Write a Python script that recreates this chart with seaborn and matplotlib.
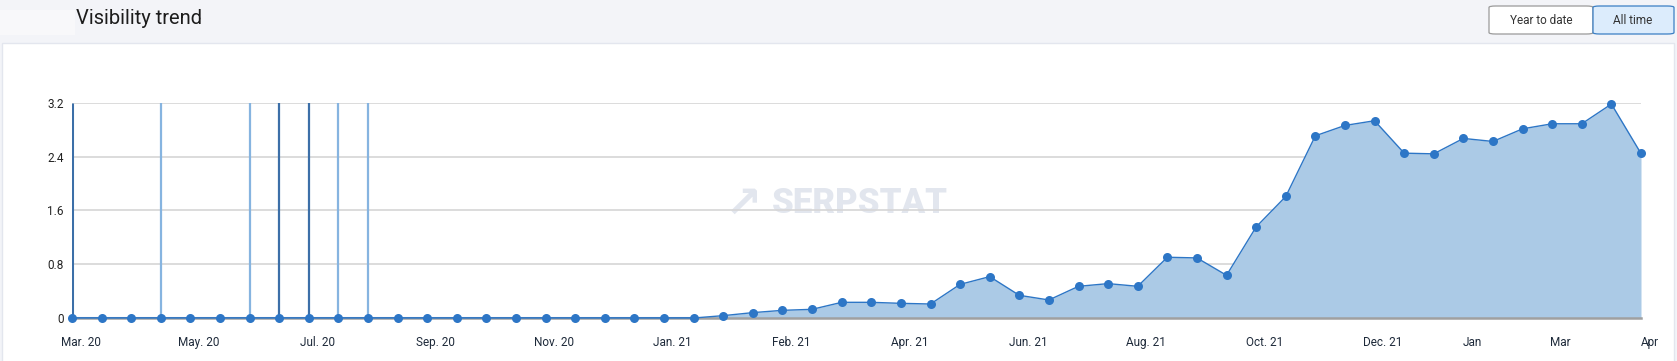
import numpy as np
import pandas as pd
import seaborn as sns
import matplotlib.pyplot as plt
import matplotlib.transforms as mtransforms
from matplotlib.patches import Rectangle, FancyBboxPatch

# data (one point roughly every half month)
visibility = [0, 0, 0, 0, 0, 0, 0, 0, 0, 0,
              0, 0, 0, 0, 0, 0, 0, 0, 0, 0,
              0, 0, 0.035, 0.08, 0.114, 0.129, 0.233, 0.233, 0.218, 0.208,
              0.50, 0.615, 0.337, 0.268, 0.471, 0.511, 0.471, 0.903, 0.893, 0.635,
              1.354, 1.806, 2.708, 2.862, 2.932, 2.450, 2.440, 2.669, 2.624, 2.812,
              2.887, 2.887, 3.18, 2.445]
tick_pos = [0, 4, 8, 12, 16, 20, 24, 28, 32, 36, 40, 44, 47, 50, 53]
tick_labels = ["Mar. 20", "May. 20", "Jul. 20", "Sep. 20", "Nov. 20", "Jan. 21",
               "Feb. 21", "Apr. 21", "Jun. 21", "Aug. 21", "Oct. 21", "Dec. 21",
               "Jan", "Mar", "Apr"]
y_ticks = [0, 0.8, 1.6, 2.4, 3.2]
y_labels = ["0", "0.8", "1.6", "2.4", "3.2"]
# annotation spikes (index, dark or light)
spike_idx = [0, 3, 6, 7, 8, 9, 10]
spike_dark = [True, False, False, True, True, False, False]

df = pd.DataFrame({"idx": np.arange(len(visibility)), "value": visibility})

sns.set_theme(style="white")
plt.rcParams['font.family'] = ['Roboto', 'DejaVu Sans']

fig = plt.figure(figsize=(16.77, 3.61), dpi=100)
W, H = 1677, 361

def px_rect(x, y, w, h, **kw):
    # rectangle in pixel coords measured from the top-left
    return Rectangle((x / W, 1 - (y + h) / H), w / W, h / H,
                     transform=fig.transFigure, **kw)

# page background + card
fig.patch.set_facecolor("#f3f4f8")
fig.add_artist(px_rect(2, 43, 1672, 320, facecolor="white", edgecolor="#e3e6ee", lw=1, zorder=0))
fig.add_artist(px_rect(0, 10, 75, 25, facecolor="#f8f8fa", edgecolor="none", zorder=0))

fig.text(76 / W, 1 - 19 / H, "Visibility trend", fontsize=14.5, color="#1c1c1c",
         va="center", ha="left")

# buttons
b1 = FancyBboxPatch((1489 / W, 1 - 34 / H), 104 / W, 28 / H,
                    boxstyle="round,pad=0,rounding_size=0.004", transform=fig.transFigure,
                    facecolor="white", edgecolor="#9a9a9a", lw=0.9)
b2 = FancyBboxPatch((1593 / W, 1 - 34 / H), 81 / W, 28 / H,
                    boxstyle="round,pad=0,rounding_size=0.004", transform=fig.transFigure,
                    facecolor="#dcecfc", edgecolor="#3b7fc4", lw=0.9)
fig.add_artist(b1)
fig.add_artist(b2)
fig.text(1541 / W, 1 - 20 / H, "Year to date", fontsize=8.5, color="#333333", ha="center", va="center")
fig.text(1633 / W, 1 - 20 / H, "All time", fontsize=8.5, color="#333333", ha="center", va="center")

ax = fig.add_axes([72 / W, (H - 318) / H, (1641 - 72) / W, (318 - 102.7) / H])
ax.set_facecolor("none")

# watermark
ax.text(0.502, 0.53, "SERPSTAT", transform=ax.transAxes, fontsize=25, fontweight="black",
        color="#e2e6ee", ha="center", va="center", zorder=0)
ax.text(0.428, 0.53, "\u2197", transform=ax.transAxes, fontsize=32, fontweight="bold",
        color="#e2e6ee", ha="center", va="center", zorder=0, family="DejaVu Sans")

for yv in y_ticks[1:]:
    ax.axhline(yv, color="#d6d6d6", lw=1.2, zorder=0.5)

ax.fill_between(df["idx"], df["value"], 0, color="#abcae6", lw=0, zorder=1)

for i, dark in zip(spike_idx, spike_dark):
    ax.vlines(i, 0, 3.2, color="#3c6fa8" if dark else "#86b4e0",
              lw=2.2 if i == 0 else 1.6, zorder=2)

sns.lineplot(data=df, x="idx", y="value", ax=ax, color="#2d76c6", lw=1.0,
             marker="o", markersize=6.5, markeredgewidth=0, zorder=4, clip_on=False)
ax.plot([0, 21], [0, 0], color="#4f82b8", lw=2.2, zorder=3)

ax.set_xlim(0, len(visibility) - 1)
ax.set_ylim(0, 3.2)
ax.set_xlabel("")
ax.set_ylabel("")
ax.set_yticks(y_ticks)
ax.set_yticklabels(y_labels)
ax.set_xticks(tick_pos)
ax.set_xticklabels(tick_labels)
ax.tick_params(axis="x", length=4, width=1, color="#9a9a9a", pad=9, labelsize=8.5, labelcolor="#1e2a3a")
ax.tick_params(axis="y", length=3, width=1, color="#bbbbbb", pad=3, labelsize=8.5, labelcolor="#222222")
offset = mtransforms.ScaledTranslation(8.5 / 100, 0, fig.dpi_scale_trans)
for lab in ax.get_xticklabels():
    lab.set_transform(lab.get_transform() + offset)

for s in ["top", "right", "left"]:
    ax.spines[s].set_visible(False)
ax.spines["bottom"].set_color("#a0a0a0")
ax.spines["bottom"].set_linewidth(1.8)

fig.savefig("out.png", dpi=100, facecolor=fig.get_facecolor())
